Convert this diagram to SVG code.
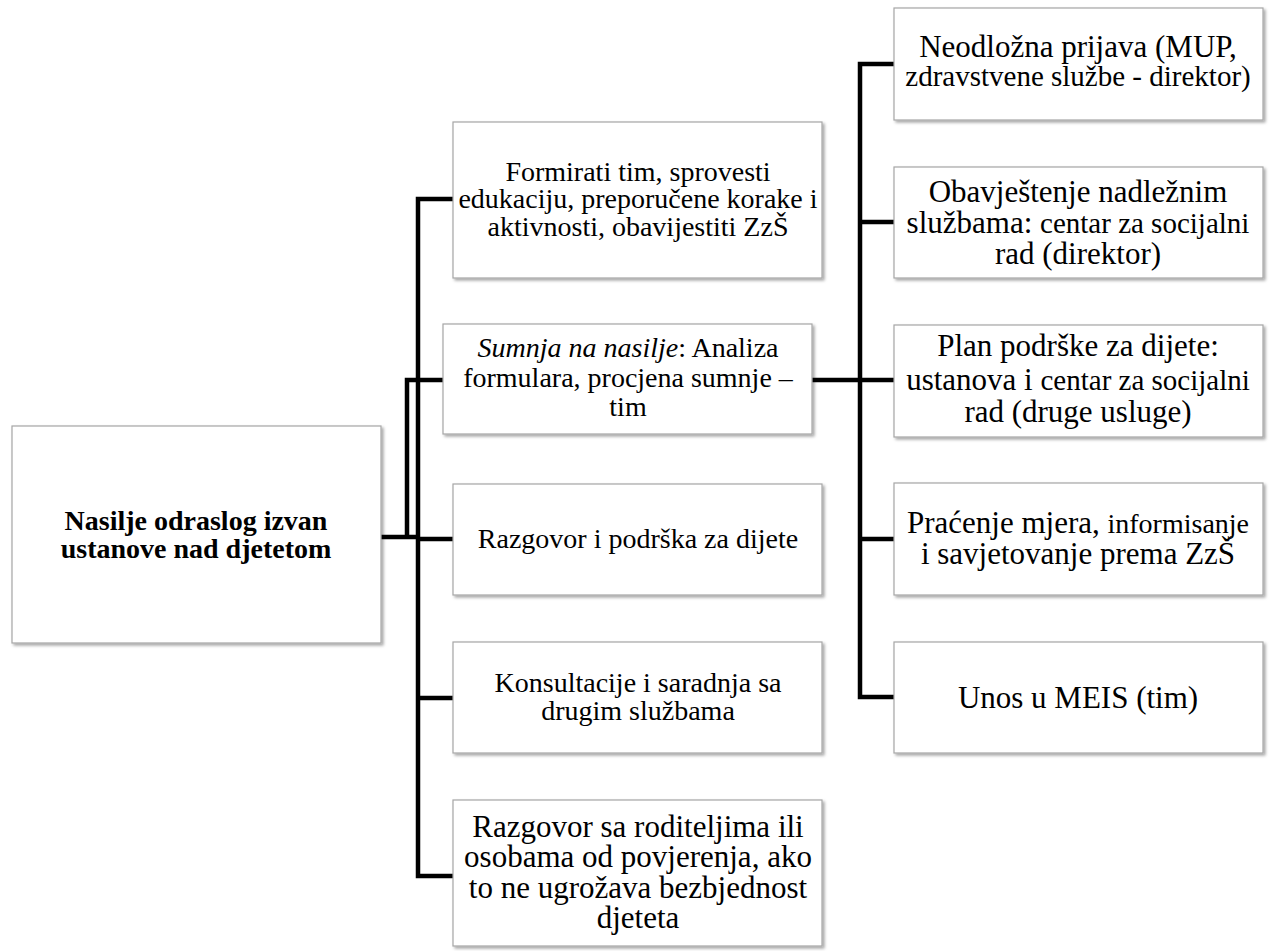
<svg xmlns="http://www.w3.org/2000/svg" width="1275" height="951" viewBox="0 0 1275 951">
<defs>
<filter id="sh" x="-5%" y="-5%" width="115%" height="115%">
<feDropShadow dx="2" dy="2" stdDeviation="1.5" flood-color="#000" flood-opacity="0.35"/>
</filter>
<style>
text{font-family:'Liberation Serif','Times New Roman',Times,Tinos,'Nimbus Roman','Nimbus Roman No9 L',FreeSerif,'DejaVu Serif','Noto Serif',serif;fill:#000;text-anchor:middle;font-size:28px}
.box{fill:#fff;stroke:#a6a6a6;stroke-width:1.2;filter:url(#sh)}
.b{font-weight:bold}
.l{font-size:31px}
.s{font-size:29px}
.c{fill:none;stroke:#000;stroke-width:4.5;stroke-linecap:square}
</style>
</defs>
<rect width="1275" height="951" fill="#fff"/>
<g id="connectors">
<path class="c" d="M381 537 H418 M418 199 V876 M418 199 H453 M418 539 H453 M418 698 H453 M418 876 H453 M407 380 V537 M407 380 H443"/>
<path class="c" d="M812 380 H894 M860 64 V697 M860 64 H894 M860 222 H894 M860 539 H894 M860 697 H894"/>
</g>
<g id="root">
<rect class="box" x="12" y="426" width="369" height="217"/>
<text class="b" x="196" y="530">Nasilje odraslog izvan</text>
<text class="b" x="196" y="558">ustanove nad djetetom</text>
</g>
<g id="m1">
<rect class="box" x="453" y="122" width="369" height="156"/>
<text x="638" y="181">Formirati tim, sprovesti</text>
<text x="638" y="208">edukaciju, preporučene korake i</text>
<text x="638" y="236">aktivnosti, obavijestiti ZzŠ</text>
</g>
<g id="m2">
<rect class="box" x="443" y="324" width="369" height="110"/>
<text x="628" y="357"><tspan font-style="italic">Sumnja na nasilje</tspan>: Analiza</text>
<text x="628" y="387">formulara, procjena sumnje –</text>
<text x="628" y="416">tim</text>
</g>
<g id="m3">
<rect class="box" x="453" y="484" width="369" height="111"/>
<text x="638" y="548">Razgovor i podrška za dijete</text>
</g>
<g id="m4">
<rect class="box" x="453" y="642" width="369" height="111"/>
<text x="638" y="692">Konsultacije i saradnja sa</text>
<text x="638" y="720">drugim službama</text>
</g>
<g id="m5">
<rect class="box" x="453" y="800" width="369" height="146"/>
<text class="l" x="638" y="837">Razgovor sa roditeljima ili</text>
<text class="l" x="638" y="867">osobama od povjerenja, ako</text>
<text class="l" x="638" y="898">to ne ugrožava bezbjednost</text>
<text class="l" x="638" y="928">djeteta</text>
</g>
<g id="r1">
<rect class="box" x="894" y="8" width="369" height="112"/>
<text class="l" x="1078" y="57">Neodložna prijava (MUP,</text>
<text class="s" x="1078" y="86">zdravstvene službe - direktor)</text>
</g>
<g id="r2">
<rect class="box" x="894" y="167" width="369" height="111"/>
<text class="l" x="1078" y="202">Obavještenje nadležnim</text>
<text class="l" x="1078" y="233">službama: <tspan font-size="29">centar za socijalni</tspan></text>
<text class="l" x="1078" y="264">rad (direktor)</text>
</g>
<g id="r3">
<rect class="box" x="894" y="325" width="369" height="112"/>
<text class="l" x="1078" y="356">Plan podrške za dijete:</text>
<text class="l" x="1078" y="390">ustanova i <tspan font-size="29">centar za socijalni</tspan></text>
<text class="l" x="1078" y="422">rad (druge usluge)</text>
</g>
<g id="r4">
<rect class="box" x="894" y="483" width="369" height="112"/>
<text class="l" x="1078" y="533">Praćenje mjera, <tspan font-size="28">informisanje</tspan></text>
<text class="l" x="1078" y="564">i savjetovanje prema ZzŠ</text>
</g>
<g id="r5">
<rect class="box" x="894" y="642" width="369" height="111"/>
<text class="l" x="1078" y="708">Unos u MEIS (tim)</text>
</g>
</svg>
